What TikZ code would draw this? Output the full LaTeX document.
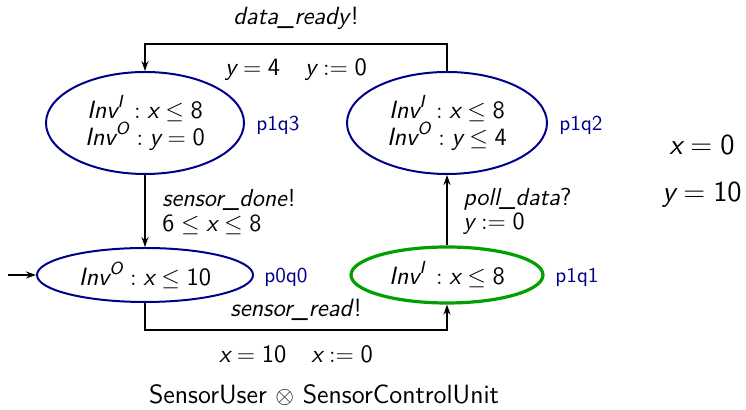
\documentclass[tikz,border=0pt]{standalone}
\usepackage{amsmath}
\usetikzlibrary{shapes.geometric,arrows.meta}
\definecolor{locblue}{RGB}{0,0,139}
\definecolor{locgreen}{RGB}{0,160,0}
% sans identifiers and numerals inside formulas
\newcommand{\sv}[1]{\textit{#1}}
\newcommand{\sn}[1]{\textup{#1}}
\tikzset{
  loc/.style={ellipse,draw=locblue,line width=1pt,inner sep=0pt,align=center},
  cur/.style={ellipse,draw=locgreen,line width=1.6pt,inner sep=0pt,align=center},
  tag/.style={text=locblue,font=\sffamily\fontsize{10.6}{12}\selectfont},
  edge/.style={line width=0.9pt,-{Stealth[length=5pt,width=3.5pt]}},
  lbl/.style={inner sep=0pt,anchor=west,font=\sffamily\fontsize{12.3}{13}\selectfont},
  big/.style={font=\sffamily\fontsize{14.5}{16}\selectfont},
}
\begin{document}
\begin{tikzpicture}[x=0.5pt,y=-0.5pt,font=\sffamily\fontsize{12.5}{13.5}\selectfont]
\useasboundingbox (0,0) rectangle (746,410);

% locations of the product automaton
\node[loc,minimum width=99pt,minimum height=51pt] (q13) at (145,123)
  {$\sv{Inv}^{\sv{I}}\, : \sv{x} \leq \sn{8}$\\$\sv{Inv}^{\sv{O}} : \sv{y} = \sn{0}$};
\node[loc,minimum width=100pt,minimum height=51pt] (q12) at (447,123)
  {$\sv{Inv}^{\sv{I}}\, : \sv{x} \leq \sn{8}$\\$\sv{Inv}^{\sv{O}} : \sv{y} \leq \sn{4}$};
\node[loc,minimum width=108pt,minimum height=27pt] (q00) at (145,275)
  {$\sv{Inv}^{\sv{O}} : \sv{x} \leq \sn{10}$};
\node[cur,minimum width=96pt,minimum height=28pt] (q11) at (447,275)
  {$\sv{Inv}^{\sv{I}}\, : \sv{x} \leq \sn{8}$};

\node[tag] (t13) at (278,125) {p1q3};
\node[tag] (t12) at (581,125) {p1q2};
\node[tag] (t00) at (286,277) {p0q0};
\node[tag] (t11) at (577,277) {p1q1};

% initial marker
\coordinate (init) at (8,275);
\draw[edge] (init) -- (q00.west);

% transitions
\coordinate (topr) at (447,44);
\draw[edge] (q12.north) -- (topr) -| (q13.north);
\node (a1) at (296,18) {\textit{data\_ready}!};
\node (g1) at (296,70) {$\sv{y} = \sn{4} \quad \sv{y} := \sn{0}$};

\draw[edge] (q13.south) -- (q00.north);
\node[lbl] (a2) at (162,200) {\textit{sensor\_done}!};
\node[lbl] (g2) at (162,225) {$\sn{6} \leq \sv{x} \leq \sn{8}$};

\coordinate (botl) at (145,330);
\draw[edge] (q00.south) -- (botl) -| (q11.south);
\node (a3) at (296,310) {\textit{sensor\_read}!};
\node (g3) at (296,354) {$\sv{x} = \sn{10} \quad \sv{x} := \sn{0}$};

\draw[edge] (q11.north) -- (q12.south);
\node[lbl] (a4) at (463,199) {\textit{poll\_data}?};
\node[lbl] (g4) at (463,224) {$\sv{y} := \sn{0}$};

% clock valuation
\node[big] (vx) at (702,145) {$\sv{x} = \sn{0}$};
\node[big] (vy) at (702,195) {$\sv{y} = \sn{10}$};

% caption
\node[font=\sffamily\fontsize{13.2}{15}\selectfont] (cap) at (324,395)
  {SensorUser $\otimes$ SensorControlUnit};
\end{tikzpicture}
\end{document}
